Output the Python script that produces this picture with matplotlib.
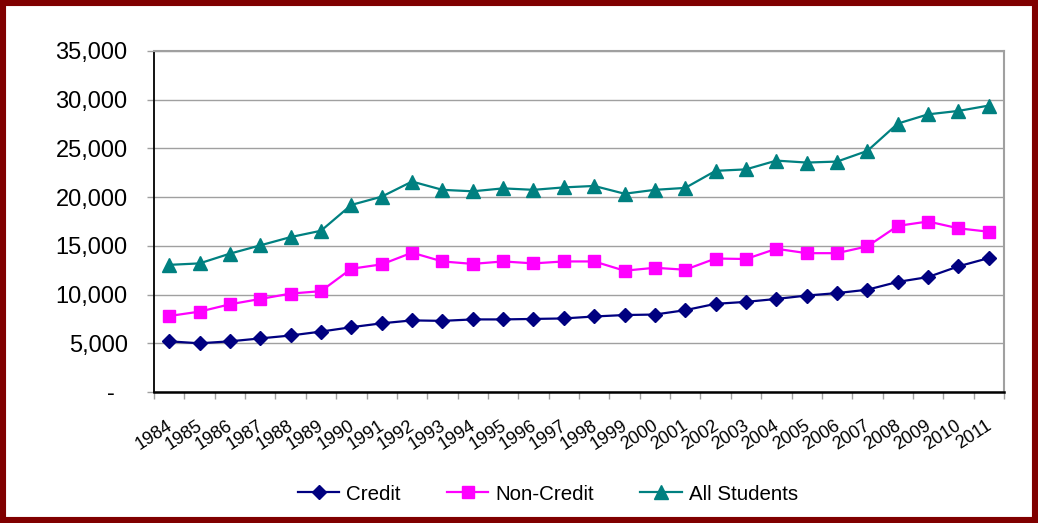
import matplotlib.pyplot as plt
from matplotlib.patches import Rectangle
from matplotlib.ticker import FuncFormatter, FixedLocator
from matplotlib.transforms import ScaledTranslation

plt.rcParams['font.family'] = ['Liberation Sans', 'DejaVu Sans']

years = [str(y) for y in range(1984, 2012)]

credit = [5200, 5000, 5200, 5500, 5800, 6200, 6650, 7050, 7350, 7300,
          7450, 7450, 7500, 7550, 7750, 7900, 7950, 8400, 9050, 9250,
          9550, 9900, 10150, 10500, 11300, 11800, 12900, 13750]
non_credit = [7800, 8250, 9000, 9550, 10100, 10350, 12650, 13100, 14300, 13400,
              13150, 13400, 13200, 13400, 13400, 12450, 12750, 12550, 13700, 13650,
              14700, 14250, 14250, 14950, 17050, 17500, 16800, 16450]
all_students = [13050, 13200, 14200, 15050, 15900, 16550, 19200, 20050, 21600, 20750,
                20600, 20900, 20750, 21000, 21150, 20350, 20750, 20950, 22700, 22850,
                23750, 23550, 23650, 24750, 27550, 28500, 28850, 29400]

series = [
    ('Credit', credit, '#000080', 'D', 7.5),
    ('Non-Credit', non_credit, '#FF00FF', 's', 9),
    ('All Students', all_students, '#008080', '^', 9.5),
]

fig = plt.figure(figsize=(10.38, 5.23), dpi=100)
ax = fig.add_axes([154 / 1038, 1 - 392 / 523, 850 / 1038, 341 / 523])

x = list(range(len(years)))
for label, vals, color, marker, ms in series:
    ax.plot(x, vals, color=color, marker=marker, markersize=ms, linewidth=1.6,
            label=label)

ax.set_xlim(-0.5, len(years) - 0.5)
ax.set_ylim(0, 35000)
ax.set_yticks(range(0, 35001, 5000))
ax.yaxis.set_major_formatter(FuncFormatter(lambda v, p: '-  ' if v == 0 else f'{int(v):,}'))
ax.grid(axis='y', color='#A0A0A0', linewidth=1.0)
ax.set_axisbelow(True)

# category labels at the centres, tick marks on the boundaries
ax.set_xticks(x)
ax.set_xticklabels(years, rotation=33, ha='right', va='top', fontsize=13)
ax.xaxis.set_minor_locator(FixedLocator([i - 0.5 for i in range(len(years) + 1)]))
ax.tick_params(axis='x', which='major', length=0, pad=18)
ax.tick_params(axis='x', which='minor', length=5, color='#A0A0A0', width=1)
ax.tick_params(axis='y', length=5, color='#A0A0A0', width=1, labelsize=17, pad=14)
offset = ScaledTranslation(6 / 100, 0, fig.dpi_scale_trans)
for t in ax.get_xticklabels():
    t.set_transform(t.get_transform() + offset)

ax.spines['left'].set_color('black')
ax.spines['left'].set_linewidth(1.3)
ax.spines['bottom'].set_color('black')
ax.spines['bottom'].set_linewidth(1.8)
for s in ('top', 'right'):
    ax.spines[s].set_color('#A0A0A0')
    ax.spines[s].set_linewidth(1.5)

fig.legend(loc='center', bbox_to_anchor=(548 / 1038, 1 - 494 / 523), ncol=3,
           frameon=False, fontsize=14.8, handlelength=2.0, handletextpad=0.35,
           columnspacing=2.25)

# dark red frame round the whole chart
fig.patches.append(Rectangle((3 / 1038, 3 / 523), 1032 / 1038, 517 / 523,
                             transform=fig.transFigure, fill=False,
                             edgecolor='#800000', linewidth=4.4))

fig.savefig('out.png', dpi=100)
